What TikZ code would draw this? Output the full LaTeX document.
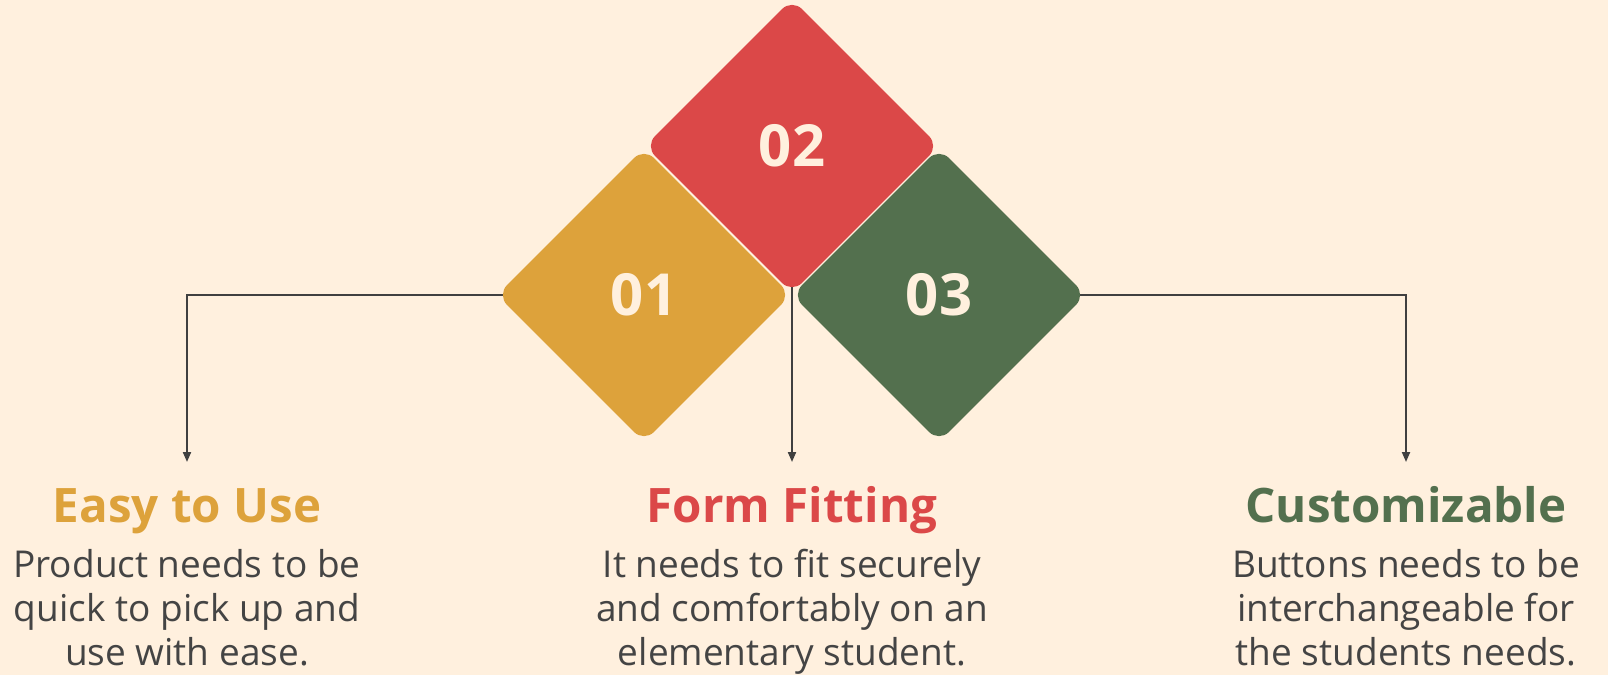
\documentclass[tikz,border=0pt]{standalone}
\usepackage{fontspec}
\setmainfont{Open Sans}
\usetikzlibrary{positioning,arrows.meta,shapes.geometric,backgrounds}
\definecolor{cream}{HTML}{FFF0DE}
\definecolor{mustard}{HTML}{DDA23B}
\definecolor{brick}{HTML}{DB4848}
\definecolor{moss}{HTML}{53704E}
\definecolor{ink}{HTML}{444444}
\definecolor{wirecol}{HTML}{404040}

\begin{document}
\begin{tikzpicture}[x=1pt,y=-1pt,>={Triangle[length=10pt,width=8pt]},
  tile/.style={diamond,aspect=1,minimum size=294pt,inner sep=0pt,rounded corners=14pt,
    fill=#1,text=cream,font=\fontsize{58}{58}\selectfont\bfseries},
  title/.style={anchor=base,text=#1,inner sep=0pt,font=\fontsize{47.5}{56}\selectfont\bfseries},
  blurb/.style={anchor=base,align=center,text=ink,inner sep=0pt,font=\fontsize{37}{44}\selectfont},
  wire/.style={draw=wirecol,line width=2pt}]
  \useasboundingbox (0,0) rectangle (1608,675);
  % the three tiles, 02 sits on top between the other two
  \node[tile=mustard] (d1) at (644,295) {01};
  \node[tile=moss]    (d3) at (939,295) {03};
  \node[tile=brick]   (d2) at (792,146) {02};

  % arrow ends just above each title
  \coordinate (a1) at (187,462);
  \coordinate (a2) at (792,462);
  \coordinate (a3) at (1406,462);

  \node[title=mustard] (t1) at (187,522)  {Easy to Use};
  \node[title=brick]   (t2) at (792,522)  {Form Fitting};
  \node[title=moss]    (t3) at (1406,522) {Customizable};

  % base of a blurb is its last line
  \node[blurb] (b1) at (187,665)  {Product needs to be\\quick to pick up and\\use with ease.};
  \node[blurb] (b2) at (792,665)  {It needs to fit securely\\and comfortably on an\\elementary student.};
  \node[blurb] (b3) at (1406,665) {Buttons needs to be\\interchangeable for\\the students needs.};

  \begin{scope}[on background layer]
    \fill[cream] (0,0) rectangle (1608,675);
    \draw[wire,->] (d1.center) -| (a1);
    \draw[wire,->] (d2.center) -- (a2);
    \draw[wire,->] (d3.center) -| (a3);
  \end{scope}
\end{tikzpicture}
\end{document}
